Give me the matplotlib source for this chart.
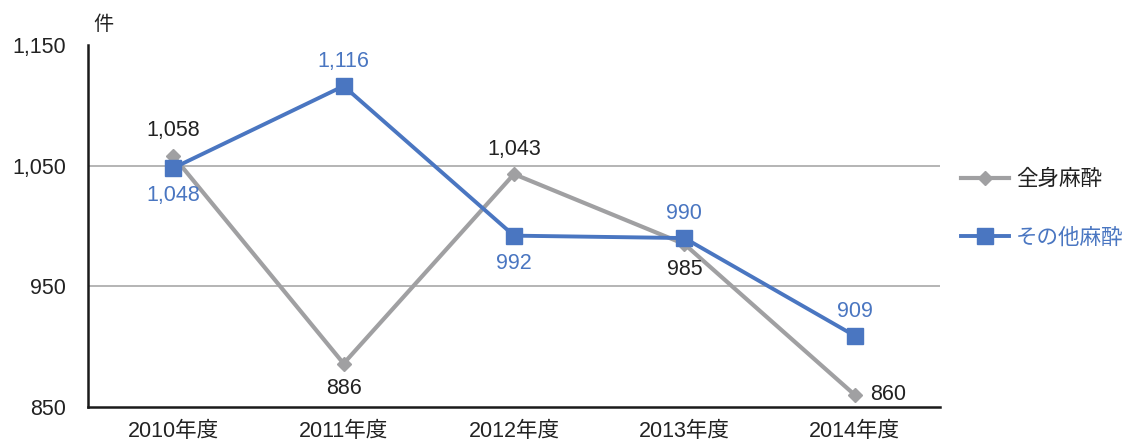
import matplotlib
matplotlib.use("Agg")
import matplotlib.pyplot as plt

plt.rcParams['font.family'] = ['Liberation Sans', 'Noto Sans CJK JP', 'DejaVu Sans']

categories = ["2010年度", "2011年度", "2012年度", "2013年度", "2014年度"]
general = [1058, 886, 1043, 985, 860]
other = [1048, 1116, 992, 990, 909]
series_names = ["全身麻酔", "その他麻酔"]
yticks = [850, 950, 1050, 1150]
ytick_labels = ["850", "950", "1,050", "1,150"]

gray = "#a0a0a2"
blue = "#4a76c1"
FS = 15.5

fig = plt.figure(figsize=(11.24, 4.41), dpi=100)
ax = fig.add_axes([88/1124, 1-407/441, (940-88)/1124, (407-45)/441])

x = list(range(len(categories)))
ax.plot(x, general, color=gray, lw=3.0, marker="D", ms=7, mfc=gray, mec=gray,
        label=series_names[0], zorder=3)
ax.plot(x, other, color=blue, lw=2.8, marker="s", ms=11, mfc=blue, mec=blue,
        label=series_names[1], zorder=4)

ax.set_xlim(-0.5, len(categories) - 0.5)
ax.set_ylim(850, 1150)
ax.set_yticks(yticks)
ax.set_yticklabels(ytick_labels)
ax.set_xticks(x)
ax.set_xticklabels(categories)
ax.tick_params(axis="both", length=0, labelsize=FS, colors="#222222")
ax.tick_params(axis="y", pad=16)
ax.tick_params(axis="x", pad=10)

for yv in [950, 1050]:
    ax.axhline(yv, color="#a8a8a8", lw=1.2, zorder=1)

for s in ["top", "right"]:
    ax.spines[s].set_visible(False)
for s in ["left", "bottom"]:
    ax.spines[s].set_color("#1a1a1a")
    ax.spines[s].set_linewidth(1.8)

def fmt(v):
    return f"{v:,}"

gen_pos = ["above", "below", "above", "below", "right"]
oth_pos = ["below", "above", "below", "above", "above"]
for xi, v, p in zip(x, general, gen_pos):
    if p == "above":
        ax.annotate(fmt(v), (xi, v), xytext=(0, 10.5), textcoords="offset points",
                    ha="center", va="bottom", fontsize=FS, color="#222222")
    elif p == "below":
        ax.annotate(fmt(v), (xi, v), xytext=(0, -10.5), textcoords="offset points",
                    ha="center", va="top", fontsize=FS, color="#222222")
    else:
        ax.annotate(fmt(v), (xi, v), xytext=(11, 0), textcoords="offset points",
                    ha="left", va="center", fontsize=FS, color="#222222")
for xi, v, p in zip(x, other, oth_pos):
    if p == "above":
        ax.annotate(fmt(v), (xi, v), xytext=(0, 10), textcoords="offset points",
                    ha="center", va="bottom", fontsize=FS, color=blue)
    else:
        ax.annotate(fmt(v), (xi, v), xytext=(0, -12.5), textcoords="offset points",
                    ha="center", va="top", fontsize=FS, color=blue)

fig.text(103/1124, 1-25/441, "件", ha="center", va="center", fontsize=14.5, color="#222222")

leg = fig.legend(handles=ax.get_lines()[:2], labels=series_names,
                 loc="center left", bbox_to_anchor=(961/1124, 1-209/441),
                 frameon=False, fontsize=FS, handlelength=2.25, labelspacing=1.75,
                 handletextpad=0.3, borderpad=0, borderaxespad=0)
for t, c in zip(leg.get_texts(), ["#222222", blue]):
    t.set_color(c)

fig.savefig("out.png", dpi=100)
